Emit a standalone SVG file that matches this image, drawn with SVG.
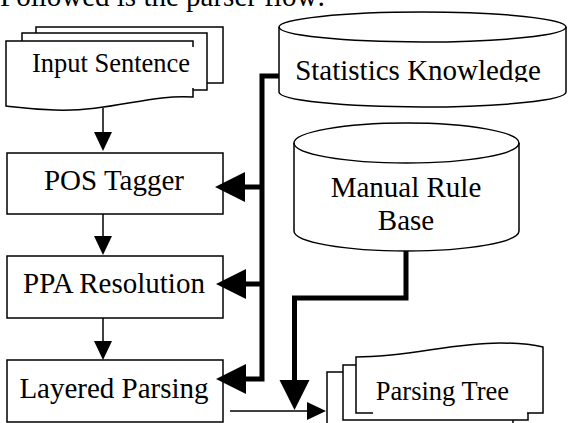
<svg xmlns="http://www.w3.org/2000/svg" width="571" height="423" viewBox="0 0 571 423">
<style>
.shape{fill:#fff;stroke:#000;stroke-width:1.5}
.t{font-family:"Liberation Serif","Times New Roman",serif;font-size:29px;fill:#000;text-anchor:middle}
.td{font-size:26.5px}
.thin{fill:none;stroke:#000;stroke-width:1.5}
.thick{fill:none;stroke:#000;stroke-width:5;stroke-linejoin:miter}
</style>
<defs>
<marker id="big" markerUnits="userSpaceOnUse" markerWidth="30" markerHeight="30" refX="0" refY="15" orient="auto" overflow="visible">
<path d="M0,0 L30,15 L0,30 Z" fill="#000"/>
</marker>
<marker id="small" markerUnits="userSpaceOnUse" markerWidth="19" markerHeight="18" refX="0" refY="9" orient="auto" overflow="visible">
<path d="M0,0 L19,9 L0,18 Z" fill="#000"/>
</marker>
<clipPath id="clipStat"><rect x="270" y="40" width="300" height="42"/></clipPath>
</defs>
<rect width="571" height="423" fill="#fff"/>
<text x="0" y="6" class="t" style="text-anchor:start">Followed is the parser flow:</text>

<g id="input-sentence">
<rect class="shape" x="36" y="27" width="187" height="56"/>
<rect class="shape" x="22" y="33" width="185" height="57"/>
<path class="shape" d="M6,41 H193 V97 C150,94 110,112 55,110 C30,109 15,107 6,106 Z"/>
<rect x="20" y="47" width="175" height="41" fill="#fff"/>
<text class="t td" x="111" y="72">Input Sentence</text>
</g>

<g id="pos-tagger">
<rect class="shape" x="7" y="153" width="216" height="61"/>
<text class="t" x="114" y="190">POS Tagger</text>
</g>

<g id="ppa-resolution">
<rect class="shape" x="7" y="256" width="216" height="62"/>
<text class="t" x="114" y="293">PPA Resolution</text>
</g>

<g id="layered-parsing">
<rect class="shape" x="7" y="360" width="216" height="62"/>
<text class="t" x="114" y="398">Layered Parsing</text>
</g>

<g id="statistics-knowledge">
<path class="shape" d="M279,27 V92 A143.5,15 0 0 0 566,92 V27 A143.5,15 0 0 0 279,27 Z"/>
<path class="thin" d="M279,27 A143.5,15 0 0 0 566,27"/>
<text class="t" x="418" y="80" clip-path="url(#clipStat)">Statistics Knowledge</text>
</g>

<g id="manual-rule-base">
<path class="shape" d="M294,143 V231 A112.5,20 0 0 0 519,231 V143 A112.5,20 0 0 0 294,143 Z"/>
<path class="thin" d="M294,143 A112.5,20 0 0 0 519,143"/>
<text class="t" x="406" y="197">Manual Rule</text>
<text class="t" x="406" y="230">Base</text>
</g>

<g id="parsing-tree">
<rect class="shape" x="327" y="372" width="186" height="56"/>
<rect class="shape" x="343" y="365" width="185" height="55"/>
<path class="shape" d="M356,357 C410,357 450,343 500,343 C520,343 535,345 543,347 V413 H356 Z"/>
<rect x="373" y="408" width="154" height="8" fill="#fff"/>
<text class="t td" x="442.5" y="400">Parsing Tree</text>
</g>

<g id="connectors">
<path class="thin" d="M103,108 V132" marker-end="url(#small)"/>
<path class="thin" d="M103,214 V236" marker-end="url(#small)"/>
<path class="thin" d="M103,318 V341" marker-end="url(#small)"/>
<path class="thin" d="M230,411 H307" marker-end="url(#small)"/>
<path class="thick" d="M279,76 H262 V379 H246" marker-end="url(#big)"/>
<path class="thick" d="M262,187 H245" marker-end="url(#big)"/>
<path class="thick" d="M262,284 H246" marker-end="url(#big)"/>
<path class="thick" d="M406,251 V298 H294.5 V380" marker-end="url(#big)"/>
</g>
</svg>
